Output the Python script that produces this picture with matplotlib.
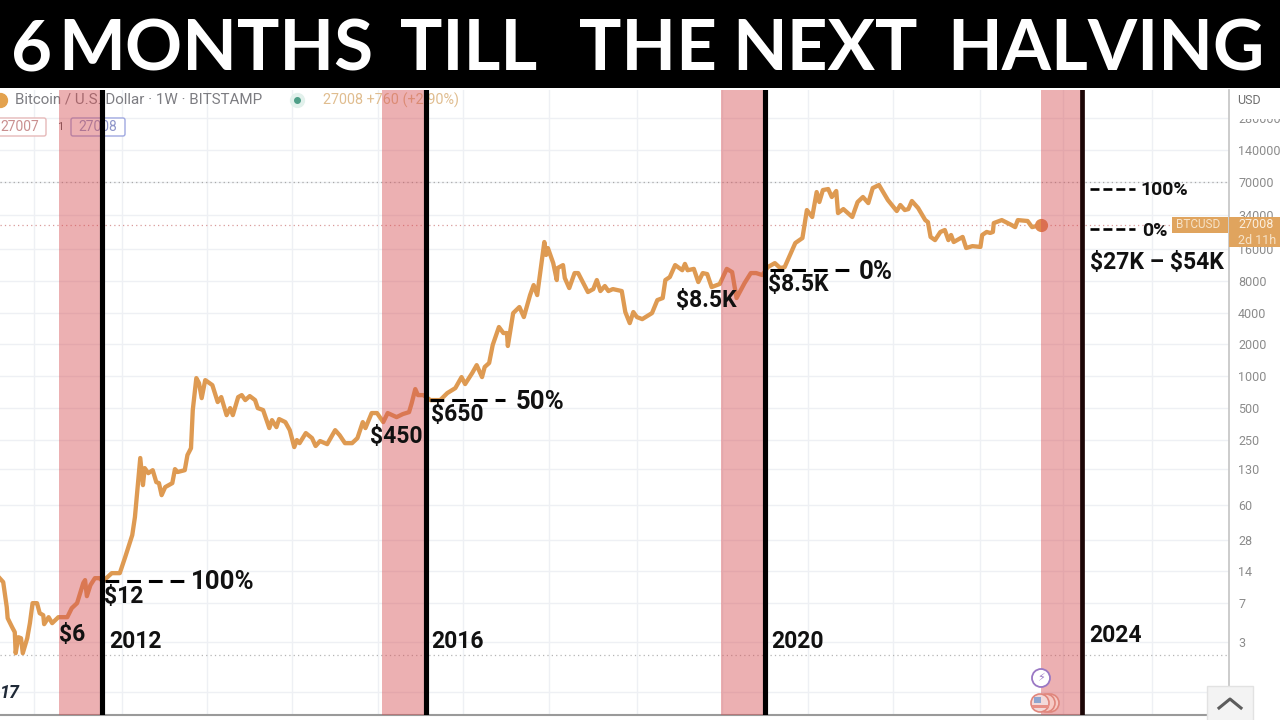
import matplotlib
matplotlib.use('Agg')
import matplotlib.pyplot as plt
from matplotlib.lines import Line2D
from matplotlib.patches import Rectangle, Circle, FancyBboxPatch
from matplotlib.transforms import Affine2D

# weekly BTCUSD, x is years since 2000
years = [11.76,11.80,11.84,11.85,11.90,11.93,11.94,11.97,12.00,12.02,12.07,12.10,12.13,12.18,12.21,12.25,12.26,12.31,12.35,12.42,12.52,12.57,12.63,12.70,12.72,
         12.74,12.78,12.83,12.88,12.92,13.02,13.11,13.17,13.25,13.28,13.31,13.34,13.37,13.39,13.43,13.48,13.52,13.55,13.58,13.62,13.70,13.73,13.76,13.84,13.87,13.91,13.93,13.97,14.00,14.03,
         14.07,14.15,14.21,14.25,14.31,14.35,14.38,14.44,14.48,14.52,14.57,14.63,14.66,14.72,14.79,14.82,14.87,14.90,14.97,15.02,15.07,15.10,15.13,15.20,15.27,
         15.31,15.36,15.44,15.53,15.58,15.64,15.72,15.78,15.84,15.87,15.94,16.00,16.07,16.12,16.22,16.29,16.36,16.39,16.43,16.46,16.52,16.60,16.71,16.79,16.88,16.95,16.99,17.07,
         17.12,17.18,17.21,17.26,17.30,17.37,17.42,17.46,17.47,17.53,17.60,17.65,17.72,17.76,17.80,17.88,17.90,17.92,17.98,18.02,18.03,18.09,18.11,18.16,18.22,18.26,18.37,
         18.43,18.47,18.51,18.56,18.60,18.65,18.75,18.79,18.84,18.88,18.92,18.98,19.09,19.15,19.21,19.24,19.29,19.35,19.43,19.46,19.49,19.56,19.61,19.66,19.71,19.76,19.85,19.93,
         19.99,20.04,20.13,20.20,20.26,20.33,20.39,20.47,20.53,20.58,20.70,20.78,20.83,20.89,20.94,20.97,21.01,21.07,21.11,21.16,21.18,21.24,21.34,21.40,21.46,21.52,21.57,
         21.64,21.74,21.84,21.88,21.93,21.97,22.01,22.08,22.16,22.19,22.22,22.27,22.33,22.38,22.42,22.45,22.48,22.58,22.62,22.69,22.78,22.80,22.85,22.89,22.92,22.93,23.02,23.13,
         23.17,23.20,23.31,23.36,23.46]
prices = [12.1,11.1,6.42,5.05,4.15,3.72,2.35,3.33,3.26,2.35,3.26,4.53,7.01,7.01,5.63,5.39,4.43,5.16,4.53,5.16,5.16,6.28,7.01,10.9,11.6,8.17,10.4,12.1,12.1,11.3,
          13.5,13.5,19.1,31,45.9,88.4,167,92.4,134,120,128,98.6,96.5,74.2,88.4,96.5,131,123,128,178,207,476,957,858,618,916,821,567,632,426,497,426,632,660,592,646,592,497,476,321,382,328,391,
          366,307,212,247,231,288,258,217,242,226,307,275,231,231,258,366,321,446,446,366,446,408,436,455,554,753,660,660,592,592,690,769,978,840,1070,1270,978,1220,1330,1970,2920,
          2560,2560,1930,3960,4520,3630,5870,7300,5870,18700,14100,16400,11800,8150,10600,11300,8510,6840,9490,9490,6270,6690,8150,6410,7150,6410,6690,6410,4050,3180,4050,3630,3470,
          3960,5260,5500,8150,8700,11300,10100,11600,10100,10400,7800,9490,9290,6990,7470,10400,9700,5500,7630,9490,9490,9090,10800,11800,10600,10800,18300,20400,37600,32300,55700,
          44800,58200,59500,50000,57000,35200,38400,32300,44800,50000,43800,60800,65000,46800,36800,42000,37600,38400,45800,39300,30200,28900,20900,19500,23300,24300,19500,21800,
          18700,20900,16400,17100,16800,21800,23300,22800,23300,28300,30200,27100,25900,30200,29600,25900,27100]

halvings = [12.91, 16.55, 20.36, 23.92]
band_starts = [12.43, 16.06, 19.86, 23.46]
year_grid = [12.15,13.13,14.09,15.04,16.01,16.97,17.93,18.92,19.88,20.84,21.80,22.77,23.71,24.71]
price_ticks = [1,3,7,14,28,60,130,250,500,1000,2000,4000,8000,16000,34000,70000,140000,280000]
price_labels = ['','3','7','14','28','60','130','250','500','1000','2000','4000','8000','16000','34000','70000','140000','280000']
dotted_levels = [69400, 27008, 2.24]
dotted_colors = ['#a9a9a9', '#d99a9a', '#b5b5b5']

plt.rcParams['font.family'] = ['Roboto', 'DejaVu Sans']
fig = plt.figure(figsize=(12.8, 7.2), dpi=100, facecolor='w')
ax = fig.add_axes([0, 5/720, 1229/1280, 625/720], zorder=1)
# pixels of the picture, y going down
pix = Affine2D().scale(1, -1).translate(0, 720)

ax.set_yscale('log')
ax.set_xlim(11.764, 25.573)
ax.set_ylim(0.609, 517800)
ax.set_xticks(year_grid)
ax.set_xticklabels([])
ax.minorticks_off()
ax.set_yticks(price_ticks)
ax.set_yticklabels(price_labels)
ax.yaxis.tick_right()
ax.tick_params(axis='y', length=0, pad=6.5, labelsize=9, labelcolor='#8b8b8b')
ax.tick_params(axis='x', length=0)
ax.grid(True, color='#eef0f4', lw=1.0, zorder=0)
ax.set_axisbelow(True)
for s in ['top', 'left']:
    ax.spines[s].set_visible(False)
ax.spines['right'].set_color('#c4c4c4')
ax.spines['right'].set_linewidth(1.2)
ax.spines['bottom'].set_color('#9a9a9a')
ax.spines['bottom'].set_linewidth(1.5)

for lev, c in zip(dotted_levels, dotted_colors):
    ax.axhline(lev, color=c, lw=0.9, ls=(0, (1, 2.5)), zorder=1)

ax.plot(years, prices, color='#de9a52', lw=3.1, solid_joinstyle='round', zorder=3)
ax.plot(years[-1], prices[-1], 'o', color='#e08a4e', ms=8.5, zorder=3)

for b0, h in zip(band_starts, halvings):
    ax.axvspan(b0, h, color='#d75055', alpha=0.45, lw=0, zorder=4)
for h in halvings[:3]:
    ax.axvline(h, color='k', lw=3.7, zorder=5)
ax.axvline(halvings[3], color='#1c0606', lw=3.4, zorder=5)

# tradingview header, sits under the pink bands
ax.plot([0], [100], 'o', color='#e3a24e', ms=10, transform=pix, clip_on=False, zorder=2)
ax.text(15, 100, 'Bitcoin / U.S. Dollar · 1W · BITSTAMP', transform=pix, color='#7d7d82', fontsize=10.9,
        va='center', zorder=2)
ax.plot([297], [100], 'o', color='#e2f1ec', ms=10, transform=pix, zorder=2)
ax.plot([297], [100], 'o', color='#4f9f88', ms=4, transform=pix, zorder=2)
ax.text(323, 100, '27008 +760 (+2.90%)', transform=pix, color='#e0bd8f', fontsize=10.4, va='center', zorder=2)
ax.add_patch(FancyBboxPatch((-6, 118), 52, 18, boxstyle='round,pad=0,rounding_size=2', transform=pix,
                            fc='w', ec='#e6b9b9', lw=1, zorder=2, clip_on=False))
ax.text(0, 127, '27007', transform=pix, color='#c98f8f', fontsize=10, va='center', zorder=2)
ax.text(57, 127, '1', transform=pix, color='#555555', fontsize=8, va='center', zorder=2)
ax.add_patch(FancyBboxPatch((71, 118), 54, 18, boxstyle='round,pad=0,rounding_size=2', transform=pix,
                            fc='w', ec='#9fa8e0', lw=1, zorder=2))
ax.text(78, 127, '27008', transform=pix, color='#8f96c9', fontsize=10, va='center', zorder=2)
ax.text(0, 693, '17', transform=pix, color='#1f2937', fontsize=13, fontweight='bold', style='italic',
        va='center', zorder=2)

# icons at the bottom of the last band
ax.add_patch(Circle((1041, 678), 9, transform=pix, fc='w', ec='#9a78c4', lw=1.3, zorder=6))
ax.text(1041, 678, '⚡', transform=pix, family='DejaVu Sans', color='#9a78c4', fontsize=8, ha='center',
        va='center', zorder=7)
for cx in [1050, 1046]:
    ax.add_patch(Circle((cx, 703), 9, transform=pix, fc='#f6c9c4', ec='#e0867c', lw=1.2, zorder=6))
ax.add_patch(Circle((1040, 703), 9, transform=pix, fc='#f3d9d9', ec='#e0867c', lw=1.2, zorder=6))
ax.add_patch(Rectangle((1034, 697), 7, 6, transform=pix, fc='#8fa5cf', lw=0, zorder=7))
ax.add_patch(Rectangle((1032, 705), 17, 3, transform=pix, fc='#e88f86', lw=0, zorder=7))

# title strip
fig.patches.append(Rectangle((0, 632), 1280, 88, transform=None, fc='k', lw=0, zorder=5))
title_words = ['6', 'MONTHS', 'TILL', 'THE', 'NEXT', 'HALVING']
title_x = [11, 58, 400, 579, 732, 947]
for w, x in zip(title_words, title_x):
    fig.text(x, 50, w, transform=pix, color='w', family='Lato', fontweight='bold', fontsize=51,
             ha='left', va='center', zorder=6)

# usd box, price labels on the scale
fig.patches.append(Rectangle((1231, 601), 49, 29, transform=None, fc='w', lw=0, zorder=2))
fig.text(1237, 100, 'USD', transform=pix, color='#6f6f6f', fontsize=9, va='center', zorder=3)
fig.patches.append(Rectangle((1172, 487), 56, 16, transform=None, fc='#e0a45e', lw=0, zorder=2))
fig.patches.append(Rectangle((1229, 473), 51, 30, transform=None, fc='#e0a45e', lw=0, zorder=2))
fig.text(1176, 225, 'BTCUSD', transform=pix, color='#f6e3c9', fontsize=8.5, va='center', zorder=3)
fig.text(1238, 225, '27008', transform=pix, color='#fbeedd', fontsize=9, va='center', zorder=3)
fig.text(1238, 240, '2d 11h', transform=pix, color='#f6e3c9', fontsize=9, va='center', zorder=3)

# chevron button
fig.patches.append(Rectangle((1207, -1), 46, 35, transform=None, fc='#f3f3f3', ec='#e2e2e2', lw=1, zorder=2))
fig.add_artist(Line2D([1219, 1230, 1241], [708, 699, 708], transform=pix, color='#5c5c5c', lw=2.2, zorder=3))

# annotations put on the video
dash_x0 = [105, 430, 770]
dash_x1 = [185, 505, 850]
dash_y = [581, 400, 270]
for x0, x1, y in zip(dash_x0, dash_x1, dash_y):
    fig.add_artist(Line2D([x0, x1], [y, y], transform=pix, color='k', lw=2.2, dashes=(4.5, 2.6), zorder=4))
for y in [189, 229]:
    fig.add_artist(Line2D([1090, 1135], [y, y], transform=pix, color='k', lw=1.9, dashes=(3.4, 1.5), zorder=4))

note_text = [r'\$6', r'\$12', '2012', r'\$450', r'\$650', '2016', r'\$8.5K', r'\$8.5K', '2020', '2024']
note_x = [72, 124, 135, 396, 457, 458, 706, 798, 797, 1115]
note_y = [634, 596, 642, 436, 414, 641, 300, 284, 641, 635]
for t, x, y in zip(note_text, note_x, note_y):
    fig.text(x, y, t, transform=pix, color='#111111', fontsize=16.5, fontweight='bold', ha='center',
             va='center', zorder=4)
pct_text = ['100%', '50%', '0%']
pct_x = [223, 540, 876]
pct_y = [582, 402, 272]
for t, x, y in zip(pct_text, pct_x, pct_y):
    fig.text(x, y, t, transform=pix, color='#111111', fontsize=18.5, fontweight='bold', ha='center',
             va='center', zorder=4)
fig.text(1164, 190, '100%', transform=pix, color='#111111', fontsize=14, fontweight='bold', ha='center', va='center', zorder=4)
fig.text(1155, 231, '0%', transform=pix, color='#111111', fontsize=14, fontweight='bold', ha='center', va='center', zorder=4)
fig.text(1157, 263, r'\$27K – \$54K', transform=pix, color='#111111', fontsize=16.5, fontweight='bold', ha='center', va='center', zorder=4)

plt.savefig('out.png', dpi=100)
